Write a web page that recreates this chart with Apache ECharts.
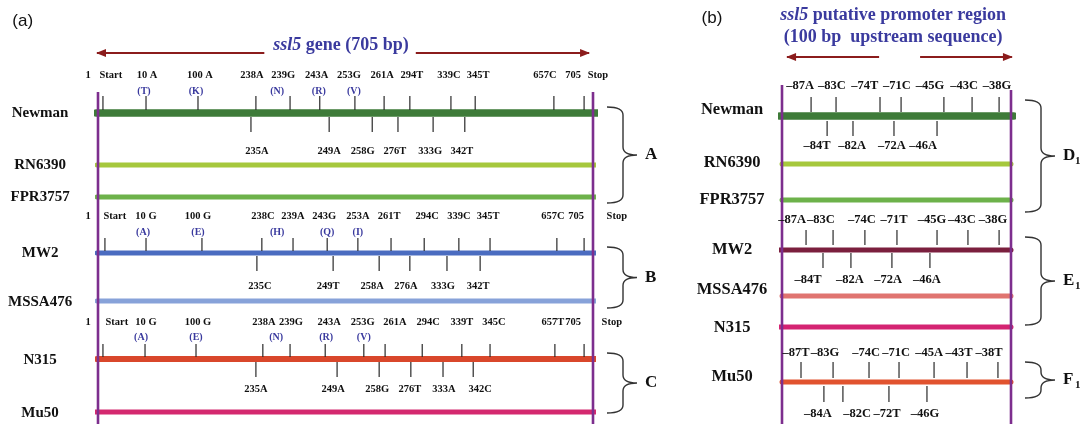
<!DOCTYPE html>
<html><head><meta charset="utf-8">
<script src="https://cdn.jsdelivr.net/npm/echarts@6/dist/echarts.min.js"></script>
<style>html,body{margin:0;padding:0;background:#fff}#c{width:1084px;height:424px}</style>
</head><body><div id="c"></div>
<script>
// ================= DATA =================
// Schematic site positions along each track: 0 = left border (nt 1 / -100), 100 = right border (stop / -1)
const strains = ['Newman','RN6390','FPR3757','MW2','MSSA476','N315','Mu50'];
const groupNamesA = ['A','B','C'];
const groupNamesB = ['D','E','F'];

// ---- Panel (a): ssl5 gene (705 bp)
const g1UpLabels = ['1','Start','10 A','100 A','238A','239G','243A','253G','261A','294T','339C','345T','657C','705','Stop'];
const g1UpLabelPos = [-2.0, 2.6, 9.9, 20.6, 31.1, 37.4, 44.2, 50.7, 57.4, 63.4, 70.9, 76.8, 90.3, 96.0, 101.0];
const g1UpTicks = [1.0, 9.7, 20.2, 31.9, 38.8, 44.8, 51.9, 57.8, 63.0, 71.3, 76.2, 92.1, 98.2];
const g1Amino = ['(T)','(K)','(N)','(R)','(V)'];
const g1AminoPos = [9.3, 19.8, 36.2, 44.6, 51.7];
const g1DownLabels = ['235A','249A','258G','276T','333G','342T'];
const g1DownLabelPos = [32.1, 46.7, 53.5, 60.0, 67.1, 73.5];
const g1DownTicks = [30.9, 46.7, 55.4, 60.6, 67.7, 74.1];

const g2UpLabels = ['1','Start','10 G','100 G','238C','239A','243G','253A','261T','294C','339C','345T','657C','705','Stop'];
const g2UpLabelPos = [-2.0, 3.4, 9.7, 20.2, 33.3, 39.4, 45.7, 52.5, 58.8, 66.5, 72.9, 78.8, 91.9, 96.6, 104.8];
const g2UpTicks = [1.4, 9.7, 21.0, 33.1, 39.4, 46.3, 52.5, 59.2, 65.9, 72.9, 79.2, 92.7, 98.2];
const g2Amino = ['(A)','(E)','(H)','(Q)','(I)'];
const g2AminoPos = [9.1, 20.2, 36.2, 46.3, 52.5];
const g2DownLabels = ['235C','249T','258A','276A','333G','342T'];
const g2DownLabelPos = [32.7, 46.5, 55.4, 62.2, 69.7, 76.8];
const g2DownTicks = [32.1, 47.5, 56.8, 63.0, 70.5, 77.2];

const g3UpLabels = ['1','Start','10 G','100 G','238A','239G','243A','253G','261A','294C','339T','345C','657T','705','Stop'];
const g3UpLabelPos = [-2.0, 3.8, 9.7, 20.2, 33.5, 39.0, 46.7, 53.5, 60.0, 66.7, 73.5, 80.0, 91.9, 96.0, 103.8];
const g3UpTicks = [1.0, 9.5, 19.8, 33.3, 38.8, 45.9, 53.7, 58.0, 65.5, 73.5, 79.2, 92.3, 98.2];
const g3Amino = ['(A)','(E)','(N)','(R)','(V)'];
const g3AminoPos = [8.7, 19.8, 36.0, 46.1, 53.7];
const g3DownLabels = ['235A','249A','258G','276T','333A','342C'];
const g3DownLabelPos = [31.9, 47.5, 56.4, 63.0, 69.9, 77.2];
const g3DownTicks = [31.9, 48.3, 56.8, 63.2, 69.7, 75.8];

// ---- Panel (b): ssl5 putative promoter region (100 bp upstream)
const d1UpLabels = ['–87A','–83C','–74T','–71C','–45G','–43C','–38G'];
const d1UpLabelPos = [7.9, 21.8, 36.2, 50.2, 64.6, 79.5, 93.9];
const d1UpTicks = [12.7, 23.6, 42.8, 52.0, 70.7, 83.0, 94.8];
const d1DownLabels = ['–84T','–82A','–72A','–46A'];
const d1DownLabelPos = [15.3, 30.6, 48.0, 61.6];
const d1DownTicks = [19.7, 31.0, 48.9, 67.7];

const e1UpLabels = ['–87A','–83C','–74C','–71T','–45G','–43C','–38G'];
const e1UpLabelPos = [4.4, 17.0, 34.9, 48.9, 65.5, 78.6, 92.1];
const e1UpTicks = [10.5, 22.3, 36.2, 50.2, 67.7, 81.2, 94.8];
const e1DownLabels = ['–84T','–82A','–72A','–46A'];
const e1DownLabelPos = [11.4, 29.7, 46.3, 63.3];
const e1DownTicks = [17.9, 30.1, 48.0, 64.6];

const f1UpLabels = ['–87T','–83G','–74C','–71C','–45A','–43T','–38T'];
const f1UpLabelPos = [6.1, 18.8, 36.7, 49.8, 64.2, 77.3, 90.4];
const f1UpTicks = [8.3, 22.3, 38.0, 51.1, 66.4, 80.8, 94.3];
const f1DownLabels = ['–84A','–82C','–72T','–46G'];
const f1DownLabelPos = [15.7, 32.8, 45.9, 62.4];
const f1DownTicks = [18.3, 26.6, 46.7, 63.3];

// ================= LAYOUT / STYLE =================
const SERIF = '"Liberation Serif", "DejaVu Serif", serif';
const SANS = '"Liberation Sans", Arial, sans-serif';
const BLUE = '#3a3a9e';
const ARROW = '#8b1c1c';
const PURPLE = '#7d2e8e';

const LA = {
  groups: [
    {up:g1UpLabels, upPos:g1UpLabelPos, upTicks:g1UpTicks, aa:g1Amino, aaPos:g1AminoPos, dn:g1DownLabels, dnPos:g1DownLabelPos, dnTicks:g1DownTicks,
     siteY:75, aaY:91, upT:[96,110], dnT:[117,132], belowY:151},
    {up:g2UpLabels, upPos:g2UpLabelPos, upTicks:g2UpTicks, aa:g2Amino, aaPos:g2AminoPos, dn:g2DownLabels, dnPos:g2DownLabelPos, dnTicks:g2DownTicks,
     siteY:216, aaY:232, upT:[238,251], dnT:[256,271], belowY:286},
    {up:g3UpLabels, upPos:g3UpLabelPos, upTicks:g3UpTicks, aa:g3Amino, aaPos:g3AminoPos, dn:g3DownLabels, dnPos:g3DownLabelPos, dnTicks:g3DownTicks,
     siteY:322, aaY:337, upT:[344,357], dnT:[362,377], belowY:389}
  ],
  barY: [113,165,197,253,301,359,412],
  barX: [[-0.4,101.0],[-0.2,100.8],[-0.2,100.8],[-0.2,100.8],[-0.2,100.8],[-0.2,100.8],[-0.6,100.6]],
  barW: [7.5,5,5,5,5,6,5],
  colors: ['#3e7b39','#a6c83d','#6db24a','#4a6cc0','#87a2d9','#d9472b','#d4296f'],
  labelX: -11.7,
  labelY: [113,165,197,253,302,360,413],
  braces: [[107,203],[247,308],[353,413]]
};
const LB = {
  groups: [
    {up:d1UpLabels, upPos:d1UpLabelPos, upTicks:d1UpTicks, dn:d1DownLabels, dnPos:d1DownLabelPos, dnTicks:d1DownTicks,
     siteY:86, upT:[97,112], dnT:[121,136], belowY:146},
    {up:e1UpLabels, upPos:e1UpLabelPos, upTicks:e1UpTicks, dn:e1DownLabels, dnPos:e1DownLabelPos, dnTicks:e1DownTicks,
     siteY:220, upT:[230,245], dnT:[253,268], belowY:280},
    {up:f1UpLabels, upPos:f1UpLabelPos, upTicks:f1UpTicks, dn:f1DownLabels, dnPos:f1DownLabelPos, dnTicks:f1DownTicks,
     siteY:353, upT:[362,378], dnT:[386,402], belowY:414}
  ],
  barY: [116,164,200,250,296,327,382],
  barX: [[-0.9,101.3],[0,100],[0,100],[-1.7,100],[0,100],[-1.7,100],[0,100]],
  barW: [7.5,5,5,5,5,5,5],
  colors: ['#3e7b39','#a6c83d','#6db24a','#7b1f3e','#e07470','#d42472','#e1532f'],
  labelX: -21.8,
  labelY: [110,163,200,250,290,328,377],
  braces: [[100,212],[237,325],[362,398]]
};

// ================= SERIES BUILDERS =================
function base(g){ return {xAxisIndex:g, yAxisIndex:g, silent:true, animation:false, clip:false}; }

function segSeries(g, x0, x1, y, color, width, z){
  return Object.assign(base(g), {type:'line', data:[[x0,y],[x1,y]], symbol:'none', showSymbol:false,
    lineStyle:{color:color, width:width, cap:'round'}, z:z||2});
}
function vSeries(g, x, y0, y1){
  return Object.assign(base(g), {type:'line', data:[[x,y0],[x,y1]], symbol:'none', showSymbol:false,
    lineStyle:{color:PURPLE, width:2.6}, z:4});
}
function tickSeries(g, xs, y1, y2){
  return Object.assign(base(g), {type:'custom', data:xs.map(x=>[x,y1,y2]), z:3,
    renderItem:function(p, api){
      const a = api.coord([api.value(0), api.value(1)]);
      const b = api.coord([api.value(0), api.value(2)]);
      return {type:'line', shape:{x1:a[0],y1:a[1],x2:b[0],y2:b[1]}, style:{stroke:'#2a2a2a', lineWidth:1.2}};
    }});
}
function textSeries(g, texts, xs, ys, font, color, align){
  return Object.assign(base(g), {type:'custom', z:5,
    data:xs.map((x,i)=>[x, Array.isArray(ys)?ys[i]:ys]),
    renderItem:function(p, api){
      const c = api.coord([api.value(0), api.value(1)]);
      return {type:'text', x:c[0], y:c[1], style:{text:texts[p.dataIndex], font:font, fill:color||'#111',
        align:align||'center', textAlign:align||'center', verticalAlign:'middle', textVerticalAlign:'middle'}};
    }});
}
function arrowSeries(g, items){ // [xStart, xEnd, y, headSide(-1 left, 1 right)]
  return Object.assign(base(g), {type:'custom', z:3, data:items,
    renderItem:function(p, api){
      const a = api.coord([api.value(0), api.value(2)]);
      const b = api.coord([api.value(1), api.value(2)]);
      const side = api.value(3);
      const h = side < 0 ? a : b;
      const d = side < 0 ? 1 : -1;
      return {type:'group', children:[
        {type:'line', shape:{x1:a[0],y1:a[1],x2:b[0],y2:b[1]}, style:{stroke:ARROW, lineWidth:2}},
        {type:'polygon', shape:{points:[[h[0]-d*1,h[1]],[h[0]+d*9,h[1]-4],[h[0]+d*9,h[1]+4]]}, style:{fill:ARROW}}
      ]};
    }});
}
function braceSeries(g, spans, names, withSub){
  return Object.assign(base(g), {type:'custom', z:3, data:spans.map(s=>[100, s[0], s[1]]),
    renderItem:function(p, api){
      const t = api.coord([api.value(0), api.value(1)]);
      const b = api.coord([api.value(0), api.value(2)]);
      const x0 = t[0] + 14, xv = t[0] + 30, xt = t[0] + 44;
      const y1 = t[1], y2 = b[1], ym = (y1 + y2) / 2, r = 8;
      const path = 'M'+x0+' '+y1+' Q'+xv+' '+y1+' '+xv+' '+(y1+r)+' L'+xv+' '+(ym-r)+' Q'+xv+' '+ym+' '+xt+' '+ym+
        ' Q'+xv+' '+ym+' '+xv+' '+(ym+r)+' L'+xv+' '+(y2-r)+' Q'+xv+' '+y2+' '+x0+' '+y2;
      const kids = [
        {type:'path', shape:{pathData:path}, style:{stroke:'#333', lineWidth:1.4, fill:null}},
        {type:'text', x:xt+8, y:ym, style:{text:names[p.dataIndex], font:'bold 17px '+SERIF, fill:'#111', align:'left', textAlign:'left', verticalAlign:'middle', textVerticalAlign:'middle'}}
      ];
      if (withSub) kids.push({type:'text', x:xt+20, y:ym+5, style:{text:'1', font:'bold 11px '+SERIF, fill:'#111', align:'left', textAlign:'left', verticalAlign:'middle', textVerticalAlign:'middle'}});
      return {type:'group', children:kids};
    }});
}

// ================= BUILD =================
const series = [];
function buildPanel(g, L, hasAmino, siteFont, strainFont){
  for (let i=0;i<strains.length;i++){
    series.push(segSeries(g, L.barX[i][0], L.barX[i][1], L.barY[i], L.colors[i], L.barW[i], 2));
  }
  L.groups.forEach(gr=>{
    series.push(textSeries(g, gr.up, gr.upPos, gr.siteY, siteFont));
    series.push(tickSeries(g, gr.upTicks, gr.upT[0], gr.upT[1]));
    series.push(tickSeries(g, gr.dnTicks, gr.dnT[0], gr.dnT[1]));
    series.push(textSeries(g, gr.dn, gr.dnPos, gr.belowY, siteFont));
    if (hasAmino) series.push(textSeries(g, gr.aa, gr.aaPos, gr.aaY, 'bold 10px '+SERIF, BLUE));
  });
  series.push(textSeries(g, strains, strains.map(()=>L.labelX), L.labelY, strainFont));
}
buildPanel(0, LA, true, 'bold 10.5px '+SERIF, 'bold 15px '+SERIF);
buildPanel(1, LB, false, 'bold 12.5px '+SERIF, 'bold 16.5px '+SERIF);

// borders
series.push(vSeries(0, 0, 92, 424), vSeries(0, 100, 92, 424));
series.push(vSeries(1, 0, 85, 424), vSeries(1, 100, 90, 424));
// arrows
series.push(arrowSeries(0, [[-0.2, 33.6, 53, -1], [64.2, 99.2, 53, 1]]));
series.push(arrowSeries(1, [[2.2, 42.4, 57, -1], [60.3, 100.4, 57, 1]]));
// braces
series.push(braceSeries(0, LA.braces, groupNamesA, false));
series.push(braceSeries(1, LB.braces, groupNamesB, true));
// panel tags
series.push(textSeries(0, ['(a)'], [-15.2], [21], '17px '+SANS, '#111'));
series.push(textSeries(1, ['(b)'], [-30.6], [18], '17px '+SANS, '#111'));
// titles (rich text)
function titleSeries(g, x, y, text){
  return Object.assign(base(g), {type:'custom', z:5, data:[[x,y]],
    renderItem:function(p, api){
      const c = api.coord([api.value(0), api.value(1)]);
      return {type:'text', x:c[0], y:c[1], style:{text:text, font:'bold 18px '+SERIF, fill:BLUE,
        align:'center', textAlign:'center', verticalAlign:'middle', textVerticalAlign:'middle',
        rich:{i:{fontStyle:'italic', fontWeight:'bold', fontSize:18, fontFamily:SERIF, fill:BLUE, color:BLUE}}}};
    }});
}
series.push(titleSeries(0, 49.1, 45, '{i|ssl5} gene (705 bp)'));
series.push(titleSeries(1, 48.5, 15, '{i|ssl5} putative promoter region'));
series.push(titleSeries(1, 48.5, 37, '(100 bp  upstream sequence)'));

const chart = echarts.init(document.getElementById('c'), null, {renderer:'canvas'});
chart.setOption({
  animation:false,
  backgroundColor:'#fff',
  grid:[{left:98, width:495, top:0, height:424}, {left:782, width:229, top:0, height:424}],
  xAxis:[{type:'value', gridIndex:0, min:0, max:100, show:false}, {type:'value', gridIndex:1, min:0, max:100, show:false}],
  yAxis:[{type:'value', gridIndex:0, min:0, max:424, inverse:true, show:false}, {type:'value', gridIndex:1, min:0, max:424, inverse:true, show:false}],
  series:series
});
</script></body></html>
